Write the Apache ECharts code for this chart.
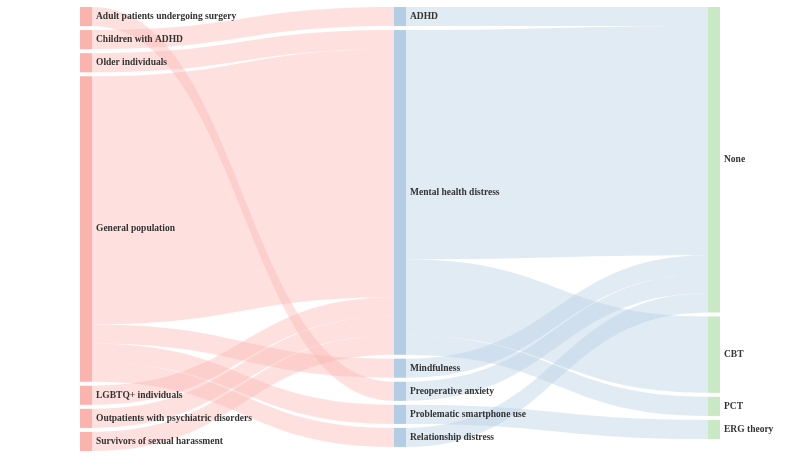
<!DOCTYPE html>
<html>
<head>
<meta charset="utf-8">
<script src="https://cdn.jsdelivr.net/npm/echarts@6/dist/echarts.min.js"></script>
<style>html,body{margin:0;padding:0;background:#fff}#c{width:800px;height:457px}</style>
</head>
<body>
<div id="c"></div>
<script>
// Left column: populations
var populations = ["Adult patients undergoing surgery", "Children with ADHD", "Older individuals", "General population", "LGBTQ+ individuals", "Outpatients with psychiatric disorders", "Survivors of sexual harassment"];
// Middle column: conditions
var conditions = ["ADHD", "Mental health distress", "Mindfulness", "Preoperative anxiety", "Problematic smartphone use", "Relationship distress"];
// Right column: theories
var theories = ["None", "CBT", "PCT", "ERG theory"];

// Links: [source, target, value]
var populationLinks = [
  ["Adult patients undergoing surgery", "Preoperative anxiety", 1],
  ["Children with ADHD", "ADHD", 1],
  ["Older individuals", "Mental health distress", 1],
  ["General population", "Mental health distress", 13],
  ["General population", "Mindfulness", 1],
  ["General population", "Problematic smartphone use", 1],
  ["General population", "Relationship distress", 1],
  ["LGBTQ+ individuals", "Mental health distress", 1],
  ["Outpatients with psychiatric disorders", "Mental health distress", 1],
  ["Survivors of sexual harassment", "Mental health distress", 1]
];
var conditionLinks = [
  ["ADHD", "None", 1],
  ["Mental health distress", "None", 12],
  ["Mental health distress", "CBT", 4],
  ["Mental health distress", "PCT", 1],
  ["Mindfulness", "None", 1],
  ["Preoperative anxiety", "None", 1],
  ["Problematic smartphone use", "ERG theory", 1],
  ["Relationship distress", "None", 1]
];

var colPop = '#fcb3ae', colCond = '#b3cde4', colTheory = '#c8e9c3';
var nodes = [];
populations.forEach(function (n) { nodes.push({name: n, depth: 0, itemStyle: {color: colPop}}); });
conditions.forEach(function (n) { nodes.push({name: n, depth: 1, itemStyle: {color: colCond}}); });
theories.forEach(function (n) { nodes.push({name: n, depth: 2, itemStyle: {color: colTheory}}); });
var links = populationLinks.concat(conditionLinks).map(function (l) {
  return {source: l[0], target: l[1], value: l[2]};
});

var chart = echarts.init(document.getElementById('c'));
chart.setOption({
  animation: false,
  series: [{
    type: 'sankey',
    left: 80, right: 80, top: 7, bottom: 6,
    nodeWidth: 12,
    nodeGap: 4,
    layoutIterations: 0,
    draggable: false,
    emphasis: {disabled: true},
    data: nodes,
    links: links,
    itemStyle: {borderWidth: 0},
    lineStyle: {color: 'source', opacity: 0.4, curveness: 0.5},
    label: {
      position: 'right',
      distance: 4,
      color: '#333',
      fontSize: 9.5,
      fontWeight: 'bold',
      fontFamily: '"Times New Roman", "Liberation Serif", serif'
    }
  }]
});
</script>
</body>
</html>
